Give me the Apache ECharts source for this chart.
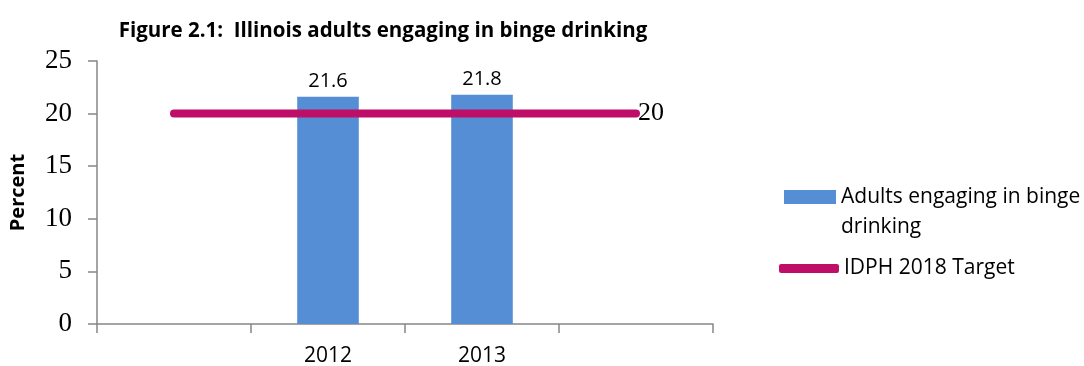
<!DOCTYPE html>
<html>
<head>
<meta charset="utf-8">
<script src="https://cdn.jsdelivr.net/npm/echarts@6/dist/echarts.min.js"></script>
<style>
  html, body { margin: 0; padding: 0; background: #fff; }
  #chart { width: 1084px; height: 366px; }
</style>
</head>
<body>
<div id="chart"></div>
<script>
// Categories: empty slots at both ends so the target line spans past the bars
const categories = ['', '2012', '2013', ''];
const bingeValues = [null, 21.6, 21.8, null];
const targetValues = [20, 20, 20, 20];
const yTicks = [0, 5, 10, 15, 20, 25];

const barName = 'Adults engaging in binge\ndrinking';
const lineName = 'IDPH 2018 Target';

const sans = '"Open Sans", "Liberation Sans", sans-serif';
const serif = '"Liberation Serif", "DejaVu Serif", serif';
const axisGrey = '#868686';

const chart = echarts.init(document.getElementById('chart'));
chart.setOption({
  animation: false,
  title: {
    text: 'Figure 2.1:  Illinois adults engaging in binge drinking',
    left: 378, top: 16, textAlign: 'center',
    textStyle: { fontFamily: sans, fontWeight: 'bold', fontSize: 20.5, color: '#000' }
  },
  grid: { left: 97, right: 371, top: 61, bottom: 42, containLabel: false, outerBoundsMode: 'none' },
  legend: [
    {
      data: [{ name: barName, icon: 'rect' }],
      // a blank leading line keeps the swatch beside the first text line
      formatter: name => ' \n' + name,
      orient: 'vertical', left: 779, top: 147,
      itemWidth: 52, itemHeight: 14,
      textStyle: { fontFamily: sans, fontSize: 21, color: '#000', lineHeight: 30 }
    },
    {
      data: [{ name: lineName, icon: 'roundRect' }],
      orient: 'vertical', left: 774, top: 253,
      itemWidth: 60, itemHeight: 9,
      textStyle: { fontFamily: sans, fontSize: 21, color: '#000' }
    }
  ],
  xAxis: {
    type: 'category',
    data: categories,
    boundaryGap: true,
    axisLine: { lineStyle: { color: axisGrey, width: 1.5 } },
    axisTick: { show: true, length: 9, lineStyle: { color: axisGrey, width: 1.5 } },
    axisLabel: { margin: 22, fontFamily: sans, fontSize: 21, color: '#000', interval: 0 }
  },
  yAxis: {
    type: 'value',
    min: yTicks[0], max: yTicks[yTicks.length - 1], interval: 5,
    name: 'Percent', nameLocation: 'middle', nameGap: 69, nameRotate: 90,
    nameTextStyle: { fontFamily: sans, fontWeight: 'bold', fontSize: 20, color: '#000' },
    axisLine: { show: true, lineStyle: { color: axisGrey, width: 1.5 } },
    axisTick: { show: true, length: 9, lineStyle: { color: axisGrey, width: 1.5 } },
    splitLine: { show: false },
    axisLabel: { margin: 25, fontFamily: serif, fontSize: 27, color: '#000' }
  },
  series: [
    {
      name: barName,
      type: 'bar',
      data: bingeValues,
      barWidth: '40%',
      itemStyle: { color: '#558ED5' },
      label: { show: true, position: 'top', distance: 5, fontFamily: sans, fontSize: 20, color: '#000' }
    },
    {
      name: lineName,
      type: 'line',
      data: targetValues,
      symbol: 'none',
      z: 3,
      lineStyle: { color: '#BE0E67', width: 8, cap: 'round' },
      itemStyle: { color: '#BE0E67' },
      endLabel: { show: true, distance: 2, fontFamily: serif, fontSize: 26, color: '#000' }
    }
  ]
});
</script>
</body>
</html>
